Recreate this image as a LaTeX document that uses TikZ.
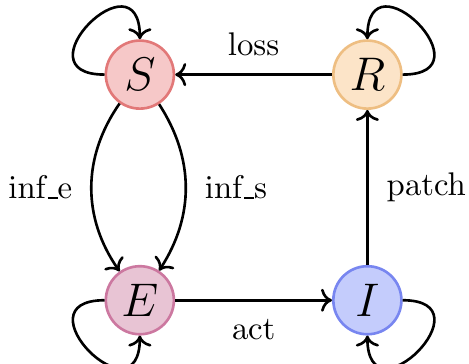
\documentclass[tikz,border=0pt]{standalone}
\usepackage[OT1]{fontenc}
\usepackage{tikz}
\usetikzlibrary{arrows.meta, positioning}

\definecolor{sfill}{RGB}{246,200,200}
\definecolor{sdraw}{RGB}{226,120,120}
\definecolor{rfill}{RGB}{252,228,200}
\definecolor{rdraw}{RGB}{238,190,130}
\definecolor{efill}{RGB}{232,196,212}
\definecolor{edraw}{RGB}{204,120,160}
\definecolor{ifill}{RGB}{196,204,252}
\definecolor{idraw}{RGB}{120,134,240}

\begin{document}
\begin{tikzpicture}[
  state/.style={circle, draw, line width=0.8pt, minimum size=0.73cm, inner sep=0pt, font=\Large},
  arr/.style={->, thick},
  lbl/.style={font=\normalsize, inner sep=5.5pt}
]
\useasboundingbox (-1.50,-0.68) rectangle (3.53,3.22);

\node[state, fill=sfill, draw=sdraw] (S) at (0,2.42)    {$S$};
\node[state, fill=rfill, draw=rdraw] (R) at (2.44,2.42) {$R$};
\node[state, fill=efill, draw=edraw] (E) at (0,0)       {$E$};
\node[state, fill=ifill, draw=idraw] (I) at (2.44,0)    {$I$};

\draw[arr] (R) -- (S) node[lbl, midway, above] {loss};
\draw[arr] (E) -- (I) node[lbl, midway, below] {act};
\draw[arr] (I) -- (R) node[lbl, midway, right] {patch};
\draw[arr] (S) to[bend right=35] node[lbl, midway, left] {inf\_e} (E);
\draw[arr] (S) to[bend left=33] node[lbl, midway, right] {inf\_s} (E);

\draw[arr] (S) to[out=180, in=90, looseness=4.5] (S);
\draw[arr] (R) to[out=0, in=90, looseness=4.5] (R);
\draw[arr] (E) to[out=180, in=270, looseness=4.5] (E);
\draw[arr] (I) to[out=0, in=270, looseness=4.5] (I);

\end{tikzpicture}
\end{document}
